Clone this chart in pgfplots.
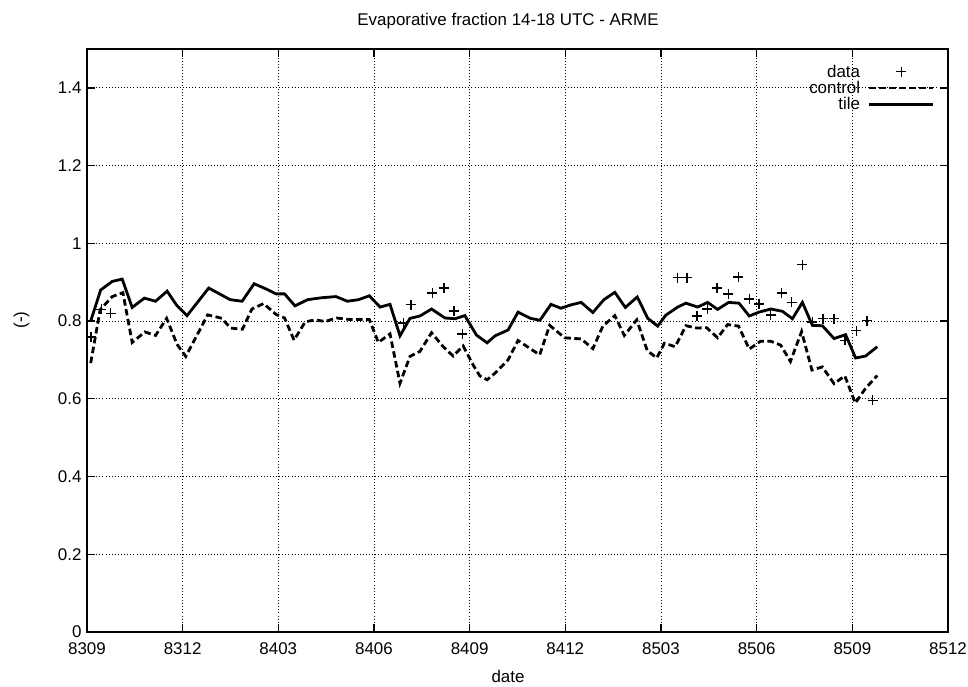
\documentclass[border=0pt]{standalone}
\usepackage{pgfplots}
\pgfplotsset{compat=1.18}
\usepackage{pgfplotstable}
\usepackage{fontspec}
\setmainfont{Liberation Sans}

% x = months since 8309 (0 = 8309, 27 = 8512)
\pgfplotstableread{
x y
0.131 0.759
0.454 0.830
0.742 0.820
9.919 0.795
10.160 0.842
10.826 0.872
11.192 0.885
11.505 0.826
11.774 0.767
18.523 0.912
18.814 0.912
19.127 0.813
19.449 0.831
19.762 0.885
20.113 0.870
20.426 0.913
20.767 0.857
21.079 0.844
21.443 0.816
21.784 0.872
22.099 0.848
22.434 0.945
22.747 0.798
23.085 0.806
23.426 0.806
23.764 0.750
24.124 0.775
24.456 0.801
24.640 0.596
}\datatable

\pgfplotstableread{
x y
0.116 0.692
0.413 0.829
0.792 0.863
1.126 0.873
1.417 0.745
1.815 0.772
2.150 0.763
2.497 0.807
2.825 0.740
3.098 0.709
3.786 0.816
4.233 0.807
4.496 0.782
4.875 0.779
5.172 0.831
5.538 0.845
5.929 0.817
6.195 0.808
6.493 0.751
6.843 0.798
7.156 0.803
7.469 0.799
7.822 0.808
8.229 0.804
8.855 0.804
9.136 0.745
9.502 0.767
9.815 0.640
10.128 0.709
10.441 0.722
10.804 0.770
11.170 0.734
11.483 0.710
11.796 0.736
12.109 0.687
12.318 0.659
12.547 0.649
12.797 0.666
13.204 0.700
13.517 0.750
13.883 0.730
14.196 0.713
14.509 0.789
14.978 0.757
15.498 0.754
15.864 0.729
16.176 0.787
16.552 0.814
16.849 0.763
17.240 0.803
17.569 0.724
17.866 0.705
18.107 0.743
18.445 0.734
18.783 0.788
19.118 0.782
19.431 0.783
19.775 0.757
20.088 0.791
20.432 0.787
20.767 0.728
21.120 0.748
21.443 0.748
21.755 0.738
22.059 0.696
22.409 0.773
22.732 0.674
23.060 0.682
23.426 0.639
23.764 0.659
24.093 0.589
24.415 0.627
24.781 0.660
}\controltable

\pgfplotstableread{
x y
0.116 0.800
0.429 0.880
0.792 0.902
1.104 0.908
1.417 0.835
1.799 0.859
2.150 0.851
2.513 0.877
2.816 0.840
3.138 0.814
3.817 0.885
4.490 0.855
4.865 0.851
5.241 0.896
5.632 0.882
5.929 0.870
6.195 0.870
6.524 0.839
6.915 0.855
7.362 0.860
7.807 0.863
8.166 0.851
8.511 0.855
8.855 0.865
9.190 0.836
9.502 0.843
9.815 0.762
10.128 0.807
10.441 0.813
10.804 0.831
11.223 0.808
11.536 0.806
11.849 0.814
12.212 0.764
12.547 0.744
12.797 0.762
13.204 0.777
13.517 0.823
13.908 0.807
14.205 0.802
14.549 0.843
14.862 0.833
15.191 0.842
15.498 0.848
15.864 0.822
16.208 0.855
16.552 0.874
16.881 0.835
17.256 0.862
17.585 0.807
17.897 0.787
18.148 0.815
18.523 0.836
18.783 0.846
19.149 0.836
19.462 0.848
19.775 0.830
20.119 0.848
20.447 0.846
20.767 0.813
21.073 0.823
21.443 0.831
21.809 0.825
22.121 0.806
22.434 0.848
22.747 0.789
23.060 0.788
23.426 0.755
23.789 0.765
24.102 0.705
24.415 0.710
24.781 0.734
}\tiletable

\begin{document}
\begin{tikzpicture}
\begin{axis}[
  at={(0,0)}, anchor=south west,
  scale only axis,
  width=861bp, height=583bp,
  xmin=0, xmax=27, ymin=0, ymax=1.5,
  xtick={0,3,6,9,12,15,18,21,24,27},
  xticklabels={8309,8312,8403,8406,8409,8412,8503,8506,8509,8512},
  ytick={0,0.2,0.4,0.6,0.8,1,1.2,1.4},
  /pgf/number format/assume math mode=true,
  tick label style={font=\fontsize{17}{19}\selectfont},
  xticklabel style={yshift=-7bp},
  yticklabel style={xshift=-2bp},
  label style={font=\fontsize{17}{19}\selectfont},
  title style={font=\fontsize{17}{19}\selectfont, at={(0.489,1)}, yshift=10bp},
  title={Evaporative fraction 14-18 UTC - ARME},
  xlabel={date},
  ylabel={(-)},
  xlabel style={at={(axis description cs:0.489,-0.077)}, anchor=center},
  ylabel style={at={(axis description cs:-0.076,0.535)}, anchor=center},
  grid=major,
  major grid style={black, line width=0.9bp, dash pattern=on 0.9bp off 2.2bp},
  axis line style={black, line width=1.6bp},
  tick style={black, line width=1.4bp},
  major tick length=8bp,
  legend plot pos=right,
  legend cell align=right,
  legend image code/.code={\draw[mark repeat=2,mark phase=2,#1] plot coordinates {(0bp,0bp) (32bp,0bp) (64bp,0bp)};},
  legend style={at={(0.985,0.975)}, anchor=north east, draw=none, fill=none,
     font=\fontsize{17}{19}\selectfont, row sep=0.5bp, inner sep=0bp,
     column sep=6bp,
     nodes={inner xsep=2bp, inner ysep=1bp}},
]
\addplot[only marks, mark=+, mark size=5bp, black, mark options={line width=1.4bp}] table {\datatable};
\addlegendentry{data}
\addplot[black, line width=2.8bp, dash pattern=on 6.5bp off 3.5bp] table {\controltable};
\addlegendentry{control}
\addplot[black, line width=2.8bp] table {\tiletable};
\addlegendentry{tile}
\end{axis}
\pgfresetboundingbox
\path (-87bp,-55bp) rectangle (881bp,632bp);
\end{tikzpicture}
\end{document}
